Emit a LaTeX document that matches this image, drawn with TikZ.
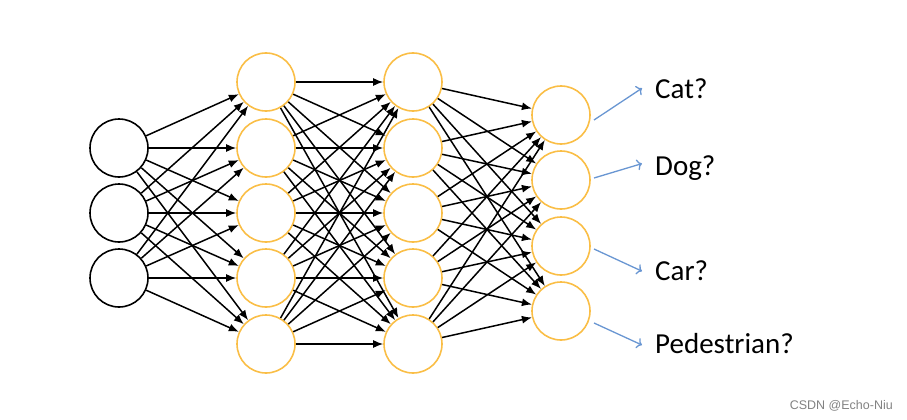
\documentclass[tikz,border=0pt]{standalone}
\usepackage{fontspec}
\setmainfont{Carlito}
\newfontfamily\marksans{Liberation Sans}
\usetikzlibrary{arrows.meta}
\definecolor{nodeorange}{RGB}{250,190,70}
\definecolor{guessblue}{RGB}{105,150,210}
\definecolor{markgray}{RGB}{130,130,130}
\tikzset{
  neuron/.style={circle, draw, line width=1.6pt, minimum size=58pt, inner sep=0pt},
  hidden/.style={neuron, draw=nodeorange},
  conn/.style={-{Latex[length=10pt,width=8pt]}, line width=1.5pt},
  guess/.style={-{To[length=5pt,width=11pt]}, guessblue, line width=1.3pt},
  label/.style={anchor=base west, inner sep=0pt, font=\fontsize{29}{34}\selectfont},
}
\begin{document}
\begin{tikzpicture}[x=1pt, y=-1pt]
    \useasboundingbox (0,0) rectangle (907,420);
    \foreach \i/\y in {1/148, 2/213, 3/278}
    {\node [neuron] (in\i) at (119,\y) {};}
    \foreach \i/\y in {1/82, 2/148, 3/213, 4/278, 5/344}
    {\node [hidden] (ha\i) at (266,\y) {};
     \node [hidden] (hb\i) at (413,\y) {};}
    \foreach \i/\y in {1/115, 2/180, 3/246, 4/311}
    {\node [hidden] (out\i) at (561,\y) {};}
    \foreach \i in {1,2,3}
    {\foreach \j in {1,...,5} {\draw [conn] (in\i) -- (ha\j);}}
    \foreach \i in {1,...,5}
    {\foreach \j in {1,...,5} {\draw [conn] (ha\i) -- (hb\j);}}
    \foreach \i in {1,...,5}
    {\foreach \j in {1,...,4} {\draw [conn] (hb\i) -- (out\j);}}
    \node [label] (cat) at (655,98) {Cat?};
    \node [label] (dog) at (655,175) {Dog?};
    \node [label] (car) at (655,280) {Car?};
    \node [label] (ped) at (655,353) {Pedestrian?};
    \draw [guess] ([shift={(33,5)}]out1.center) -- ([shift={(-13,0)}]cat.west);
    \draw [guess] ([shift={(33,-2)}]out2.center) -- ([shift={(-13,-4)}]dog.west);
    \draw [guess] ([shift={(33,3)}]out3.center) -- ([shift={(-13,1)}]car.west);
    \draw [guess] ([shift={(33,12)}]out4.center) -- ([shift={(-13,2)}]ped.west);
    %\draw [red] (0,0) grid[step=50] (907,420);
    \node [anchor=base east, inner sep=0pt, text=markgray, font=\marksans\fontsize{12.5}{15}\selectfont] (mark) at (893,409) {CSDN @Echo-Niu};
\end{tikzpicture}
\end{document}
